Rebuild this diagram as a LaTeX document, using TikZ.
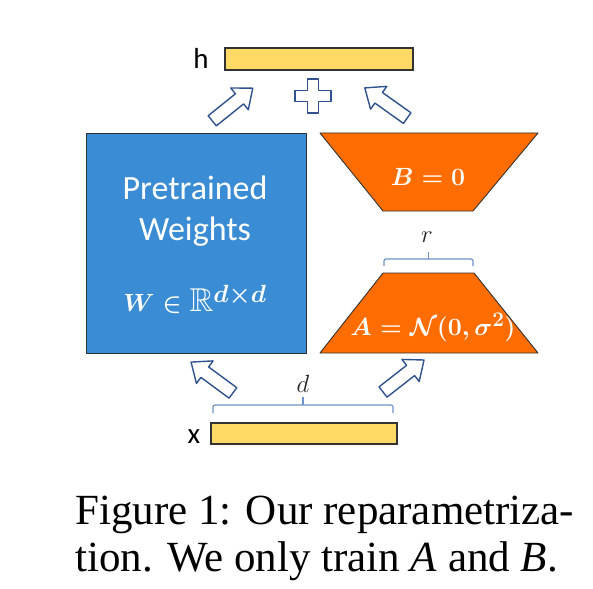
\documentclass[tikz,border=0pt]{standalone}
\usepackage{amssymb}
\usepackage{fontspec}
\setmainfont{Liberation Serif}
\newfontfamily\calib{Carlito}
\definecolor{wblue}{RGB}{58,141,212}
\definecolor{lorange}{RGB}{255,109,0}
\definecolor{hyellow}{RGB}{255,217,102}
\definecolor{arrblue}{RGB}{47,82,143}
\definecolor{brblue}{RGB}{112,146,204}
\definecolor{edgegray}{RGB}{50,50,50}
\tikzset{
  trap/.style={draw=edgegray, fill=lorange, line width=0.9pt, line join=round},
  bar/.style={draw=edgegray, fill=hyellow, line width=1.3pt, inner sep=0pt},
  arrowstyle/.style={draw=arrblue, fill=white, line width=1.4pt, line join=round},
  bracestyle/.style={draw=brblue, line width=1.2pt, rounded corners=2pt},
  sanslabel/.style={font=\calib\fontsize{29}{30}\selectfont, text=black, inner sep=0pt},
  whitetext/.style={text=white, inner sep=0pt},
  mathlabel/.style={font=\fontsize{27}{30}\selectfont, text=black!85, inner sep=0pt},
  blockarrow/.pic={\draw[arrowstyle] (-26,-6.5) -- (9,-6.5) -- (9,-14) -- (26,0) -- (9,14) -- (9,6.5) -- (-26,6.5) -- cycle;}
}
\begin{document}
\begin{tikzpicture}[x=1pt,y=-1pt]
\useasboundingbox (0,0) rectangle (593,588);
\fill[white] (0,0) rectangle (593,588);
% pretrained weights
\node[draw=edgegray, fill=wblue, minimum width=220pt, minimum height=220pt, inner sep=0pt, line width=0.9pt] (W) at (196,243) {};
\node[whitetext, font=\calib\fontsize{34}{36}\selectfont] (pt) at (195,188) {Pretrained};
\node[whitetext, font=\calib\fontsize{34}{36}\selectfont] (wt) at (195,232) {Weights};
\node[whitetext, font=\fontsize{33}{36}\selectfont\boldmath] (wm) at (195,299) {$W \in \mathbb{R}^{d\times d}$};
% B and A
\draw[trap] (320,133) -- (538,133) -- (473,211) -- (383,211) -- cycle;
\node[whitetext, font=\fontsize{28}{30}\selectfont\boldmath] (B) at (428,177) {$B = 0$};
\draw[trap] (383,273) -- (474,273) -- (538,353) -- (320,353) -- cycle;
\node[whitetext, font=\fontsize{28}{30}\selectfont\boldmath] (A) at (433,327) {$A = \mathcal{N}(0,\sigma^2)$};
% bars
\node[bar, minimum width=188pt, minimum height=22pt] (hbar) at (319,59) {};
\node[sanslabel, anchor=base] (hl) at (201,69) {h};
\node[bar, minimum width=186pt, minimum height=21pt] (xbar) at (304,433.5) {};
\node[sanslabel, anchor=base] (xl) at (194,443) {x};
% braces
\draw[bracestyle] (213,413) -- (213,405) -- (393,405) -- (393,413);
\draw[bracestyle] (303,405) -- (303,397);
\node[mathlabel] (dl) at (303,384) {$d$};
\draw[bracestyle] (384,266) -- (384,259) -- (473,259) -- (473,266);
\draw[bracestyle] (428.5,259) -- (428.5,252);
\node[mathlabel] (rl) at (427,237) {$r$};
% arrows
\pic[rotate=143.6] at (212,377.5) {blockarrow};
\pic[rotate=38] at (403.5,376) {blockarrow};
\pic[rotate=38.8] at (232.5,104.5) {blockarrow};
\pic[rotate=144.5] at (386,103) {blockarrow};
% plus
\draw[arrowstyle] (307.5,79) -- (318.5,79) -- (318.5,90.5) -- (331,90.5) -- (331,101.5) -- (318.5,101.5) -- (318.5,113) -- (307.5,113) -- (307.5,101.5) -- (295,101.5) -- (295,90.5) -- (307.5,90.5) -- cycle;
% caption
\node[anchor=base west, font=\fontsize{43}{47}\selectfont, inner sep=0pt] (cap1) at (75,524) {Figure 1: Our reparametriza-};
\node[anchor=base west, font=\fontsize{43}{47}\selectfont, inner sep=0pt] (cap2) at (75,571) {tion. We only train \textit{A} and \textit{B}.};
\end{tikzpicture}
\end{document}
